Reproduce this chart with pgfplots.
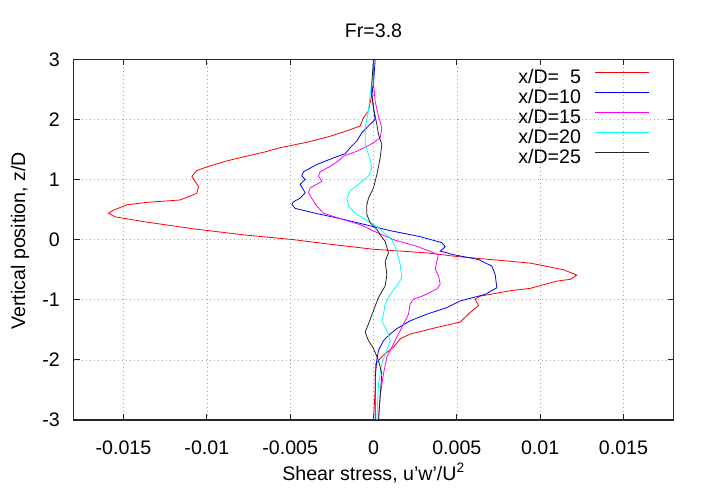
\documentclass[border=0pt]{standalone}
\usepackage{fontspec}
\setmainfont{Liberation Sans}
\usepackage{pgfplots}
\pgfplotsset{compat=1.18}
\definecolor{gpred}{RGB}{255,0,0}
\definecolor{gpblue}{RGB}{0,0,255}
\definecolor{gpmag}{RGB}{255,0,255}
\definecolor{gpcyan}{RGB}{0,255,255}
\definecolor{gpblack}{RGB}{40,40,40}
\begin{document}
\begin{tikzpicture}[font=\fontsize{19.6bp}{23.5bp}\selectfont]
\useasboundingbox (0,0) rectangle (720bp,504bp);
\begin{axis}[
  at={(73.5bp,84bp)}, anchor=south west,
  scale only axis, width=600bp, height=360.7bp,
  xmin=-0.018, xmax=0.018, ymin=-3, ymax=3,
  xtick={-0.015,-0.01,-0.005,0,0.005,0.01,0.015},
  xticklabels={-0.015,-0.01,-0.005,0,0.005,0.01,0.015},
  ytick={-3,-2,-1,0,1,2,3},
  yticklabels={-3,-2,-1,0,1,2,3},
  scaled x ticks=false,
  tick align=inside, major tick length=6bp,
  every tick/.style={black!85, line width=0.8bp},
  axis line style={black!85, line width=1.2bp},
  grid=major,
  major grid style={gray!70, line width=0.6bp, dash pattern=on 1bp off 3bp},
  xticklabel style={anchor=base, yshift=-35bp, inner sep=0pt},
  yticklabel style={anchor=east, xshift=-13.5bp, inner sep=0pt},
  xlabel={Shear stress, u'w'/U\textsuperscript{2}},
  every axis x label/.style={at={(axis description cs:0.5,0)}, anchor=base, yshift=-60bp, inner sep=0pt},
  ylabel={Vertical position, z/D},
  every axis y label/.style={at={(axis description cs:-0.0808,0.497)}, rotate=90, anchor=base, inner sep=0pt},
  title={Fr=3.8},
  every axis title/.style={at={(axis description cs:0.5,1.0618)}, anchor=base, inner sep=0pt},
  legend plot pos=right,
  legend cell align=right,
  legend style={draw=none, fill=none, at={(axis description cs:0.9608,0.9745)}, anchor=north east,
    inner sep=0pt, outer sep=0pt, row sep=0pt, column sep=14bp,
    nodes={inner sep=0pt, text height=14.5bp, text depth=5.5bp}},
]
\addlegendimage{legend image code/.code={\draw[gpred, line width=1bp] (0bp,6.5bp) -- (54bp,6.5bp);}}
\addlegendentry{x/D=\hphantom{1}5}
\addlegendimage{legend image code/.code={\draw[gpblue, line width=1bp] (0bp,6.5bp) -- (54bp,6.5bp);}}
\addlegendentry{x/D=10}
\addlegendimage{legend image code/.code={\draw[gpmag, line width=1bp] (0bp,6.5bp) -- (54bp,6.5bp);}}
\addlegendentry{x/D=15}
\addlegendimage{legend image code/.code={\draw[gpcyan, line width=1bp] (0bp,6.5bp) -- (54bp,6.5bp);}}
\addlegendentry{x/D=20}
\addlegendimage{legend image code/.code={\draw[gpblack, line width=1bp] (0bp,6.5bp) -- (54bp,6.5bp);}}
\addlegendentry{x/D=25}
\addplot[gpred, line width=0.8bp, forget plot] coordinates {
(0.0000,3.0) (0.0000,2.6) (-0.0001,2.42) (-0.0003,2.14) (-0.0006,2.03) (-0.0008,1.89)
(-0.0016,1.81) (-0.0026,1.72) (-0.0040,1.62) (-0.0056,1.53) (-0.0065,1.46) (-0.0079,1.37)
(-0.0088,1.31) (-0.0100,1.21) (-0.0106,1.15) (-0.0109,1.05) (-0.0107,0.97) (-0.0105,0.88)
(-0.0106,0.77) (-0.0116,0.66) (-0.0136,0.62) (-0.0148,0.58) (-0.0156,0.49) (-0.0159,0.44)
(-0.0155,0.38) (-0.0138,0.30) (-0.0108,0.18) (-0.0078,0.08) (-0.0048,0.00) (-0.0028,-0.07)
(0.0000,-0.16) (0.0032,-0.22) (0.0050,-0.28) (0.0070,-0.33) (0.0094,-0.39) (0.0114,-0.50)
(0.0122,-0.59) (0.0118,-0.66) (0.0110,-0.69) (0.0094,-0.81) (0.0082,-0.85) (0.0064,-0.94)
(0.0061,-0.99) (0.0063,-1.10) (0.0058,-1.21) (0.0052,-1.37) (0.0038,-1.46) (0.0022,-1.57)
(0.0016,-1.65) (0.0012,-1.79) (0.0006,-1.92) (0.0003,-2.01) (0.0001,-2.08) (0.0001,-2.5)
(0.0000,-3.0)
};
\addplot[gpblue, line width=0.8bp, forget plot] coordinates {
(0.0001,3.0) (0.0000,2.6) (-0.0001,2.42) (0.0000,2.19) (0.0001,2.0) (-0.0002,1.92)
(-0.0007,1.78) (-0.0010,1.64) (-0.0014,1.53) (-0.0017,1.43) (-0.0024,1.36) (-0.0034,1.25)
(-0.0042,1.13) (-0.0043,1.06) (-0.0041,1.00) (-0.0044,0.92) (-0.0041,0.78) (-0.0044,0.69)
(-0.0048,0.63) (-0.0049,0.59) (-0.0047,0.52) (-0.0035,0.44) (-0.0020,0.35) (-0.0005,0.25)
(0.0010,0.15) (0.0028,0.05) (0.0041,-0.05) (0.0043,-0.12) (0.0040,-0.19) (0.0048,-0.25)
(0.0063,-0.33) (0.0071,-0.44) (0.0073,-0.58) (0.0074,-0.80) (0.0067,-0.91) (0.0052,-1.02)
(0.0044,-1.13) (0.0032,-1.24) (0.0022,-1.35) (0.0014,-1.48) (0.0010,-1.57) (0.0006,-1.68)
(0.0003,-1.84) (0.0002,-2.0) (0.0001,-2.3) (0.0001,-3.0)
};
\addplot[gpmag, line width=0.8bp, forget plot] coordinates {
(0.0000,3.0) (0.0000,2.6) (0.0001,2.30) (0.0003,2.05) (0.0005,1.86) (0.0004,1.69)
(-0.0002,1.58) (-0.0010,1.47) (-0.0018,1.39) (-0.0021,1.31) (-0.0026,1.22) (-0.0032,1.13)
(-0.0033,1.06) (-0.0031,0.97) (-0.0038,0.86) (-0.0039,0.78) (-0.0036,0.64) (-0.0034,0.56)
(-0.0030,0.44) (-0.0020,0.35) (-0.0008,0.25) (0.0002,0.12) (0.0012,0.0) (0.0026,-0.11)
(0.0039,-0.25) (0.0038,-0.36) (0.0037,-0.49) (0.0039,-0.60) (0.0040,-0.74) (0.0038,-0.82)
(0.0030,-0.93) (0.0024,-0.99) (0.0022,-1.07) (0.0021,-1.24) (0.0017,-1.46) (0.0014,-1.62)
(0.0011,-1.79) (0.0008,-1.95) (0.0006,-2.23) (0.0004,-2.6) (0.0003,-3.0)
};
\addplot[gpcyan, line width=0.8bp, forget plot] coordinates {
(0.0000,3.0) (-0.0001,2.6) (-0.0002,2.42) (-0.0003,2.14) (-0.0005,1.86) (-0.0005,1.58)
(-0.0002,1.33) (-0.0001,1.19) (-0.0003,1.06) (-0.0009,0.92) (-0.0014,0.81) (-0.0016,0.69)
(-0.0015,0.56) (-0.0011,0.44) (-0.0006,0.35) (0.0002,0.22) (0.0006,0.12) (0.0011,0.0)
(0.0014,-0.19) (0.0016,-0.41) (0.0017,-0.63) (0.0014,-0.77) (0.0010,-0.91) (0.0007,-1.07)
(0.0006,-1.24) (0.0005,-1.35) (0.0008,-1.51) (0.0010,-1.68) (0.0008,-1.84) (0.0005,-2.06)
(0.0003,-2.4) (0.0002,-3.0)
};
\addplot[gpblack, line width=0.8bp, forget plot] coordinates {
(0.0000,3.0) (-0.0001,2.6) (-0.0001,2.42) (0.0000,2.19) (0.0002,1.92) (0.0003,1.75)
(0.0005,1.58) (0.0004,1.36) (0.0002,1.08) (0.0000,0.86) (-0.0003,0.69) (-0.0004,0.58)
(-0.0004,0.42) (-0.0002,0.28) (0.0002,0.17) (0.0004,0.08) (0.0007,-0.03) (0.0009,-0.22)
(0.0007,-0.36) (0.0008,-0.58) (0.0007,-0.77) (0.0003,-0.96) (0.0000,-1.18) (-0.0003,-1.40)
(-0.0005,-1.54) (-0.0003,-1.68) (0.0000,-1.81) (0.0003,-2.01) (0.0005,-2.23) (0.0004,-2.6)
(0.0003,-3.0)
};
\end{axis}
\end{tikzpicture}
\end{document}
